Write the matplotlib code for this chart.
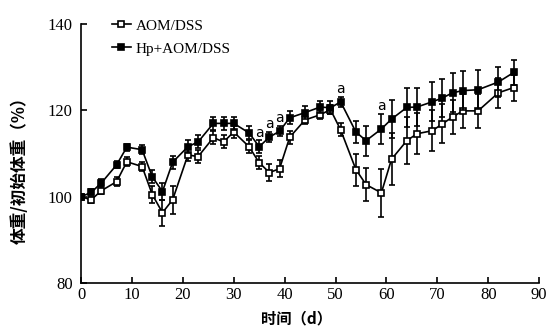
import matplotlib
matplotlib.use("Agg")
import matplotlib.pyplot as plt
from matplotlib.lines import Line2D

# data
days = [0, 2, 4, 7, 9, 12, 14, 16, 18, 21, 23, 26, 28, 30, 33, 35, 37, 39,
        41, 44, 47, 49, 51, 54, 56, 59, 61, 64, 66, 69, 71, 73, 75, 78, 82, 85]

aom = [100, 99.3, 101.4, 103.5, 108.1, 107, 100.5, 96.3, 99.3, 109.7, 109.3,
       113.7, 112.7, 115, 111.6, 107.9, 105.6, 106.5, 113.8, 117.8, 119, 120.2,
       115.5, 106.3, 102.8, 100.9, 108.7, 113, 114.6, 115.3, 116.9, 118.5,
       119.9, 119.9, 124.1, 125.3]
aom_err = [0.5, 0.7, 0.8, 1, 1, 1, 2, 3, 3.3, 1.5, 1.5, 1.5, 1.5, 1.5, 1.5,
           1.5, 2, 2, 1.5, 1, 1, 1, 1.5, 3.7, 3.9, 5.5, 6, 5.5, 4.8, 4.8, 4.5,
           4, 4, 4, 3.5, 3]

hp = [100, 101, 103.2, 107.4, 111.5, 110.9, 104.6, 101.2, 108, 111.6, 112.7,
      117, 117, 117, 114.8, 111.6, 113.8, 115.2, 118.3, 119.5, 120.8, 120.6,
      122, 115, 113, 115.7, 118, 120.7, 120.8, 122, 122.9, 124.1, 124.6,
      124.8, 126.6, 128.8]
hp_err = [0.5, 0.7, 0.8, 0.8, 0.8, 1, 1.5, 2, 1.5, 1.5, 1.5, 1.5, 1.5, 1.5,
          1.5, 1.5, 1.2, 1.2, 1.5, 1.5, 1.5, 1.5, 1.2, 2.5, 3.5, 3.5, 4.5, 4.5,
          4.5, 4.5, 4.5, 4.5, 4.5, 4.5, 3.5, 3]

sig_days = [35, 37, 39, 51, 59]

num_font = "Liberation Serif"
cjk_font = ["Noto Sans CJK SC", "DejaVu Sans"]

fig = plt.figure(figsize=(5.53, 3.31), dpi=100)
ax = fig.add_axes([0.1465, 0.145, 0.8285, 0.782])

style = dict(fmt='-s', color='black', mec='black', ms=5, lw=1.2, mew=1.2,
             elinewidth=1.2, capsize=2.5, capthick=1.2)
ax.errorbar(days, aom, yerr=aom_err, mfc='white', zorder=3, **style)
ax.errorbar(days, hp, yerr=hp_err, mfc='black', zorder=4, **style)

for d in sig_days:
    i = days.index(d)
    ax.annotate('a', (d, hp[i] + hp_err[i]), xytext=(0, 0.5),
                textcoords='offset points', ha='center', va='bottom',
                fontsize=10, family='DejaVu Sans')

ax.set_xlim(0, 90)
ax.set_ylim(80, 140)
ax.set_xticks(range(0, 91, 10))
ax.set_yticks([80, 100, 120, 140])
ax.spines['top'].set_visible(False)
ax.spines['right'].set_visible(False)
ax.spines['left'].set_linewidth(1.2)
ax.spines['bottom'].set_linewidth(1.2)
ax.tick_params(direction='in', length=4, width=1.2, labelsize=12)
ax.tick_params(axis='x', pad=3)
ax.tick_params(axis='y', pad=6)
for lab in ax.get_xticklabels() + ax.get_yticklabels():
    lab.set_family(num_font)

ax.set_xlabel('时间（d）', family=cjk_font, fontweight='bold', fontsize=11)
ax.xaxis.set_label_coords(0.47, -0.105)
ax.set_ylabel('体重/初始体重（%）', family=cjk_font, fontweight='bold',
              fontsize=12)
ax.yaxis.set_label_coords(-0.115, 0.45)

handles = [
    Line2D([], [], color='black', lw=1.2, marker='s', ms=5, mew=1.2,
           mfc='white', mec='black'),
    Line2D([], [], color='black', lw=1.2, marker='s', ms=5, mew=1.2,
           mfc='black', mec='black'),
]
ax.legend(handles, ['AOM/DSS', 'Hp+AOM/DSS'], loc='upper left',
          bbox_to_anchor=(0.068, 1.02), frameon=False, borderpad=0,
          borderaxespad=0, prop={'family': num_font, 'size': 11},
          handlelength=1.2, handletextpad=0.35, labelspacing=0.6)

fig.savefig('out.png', dpi=100)
